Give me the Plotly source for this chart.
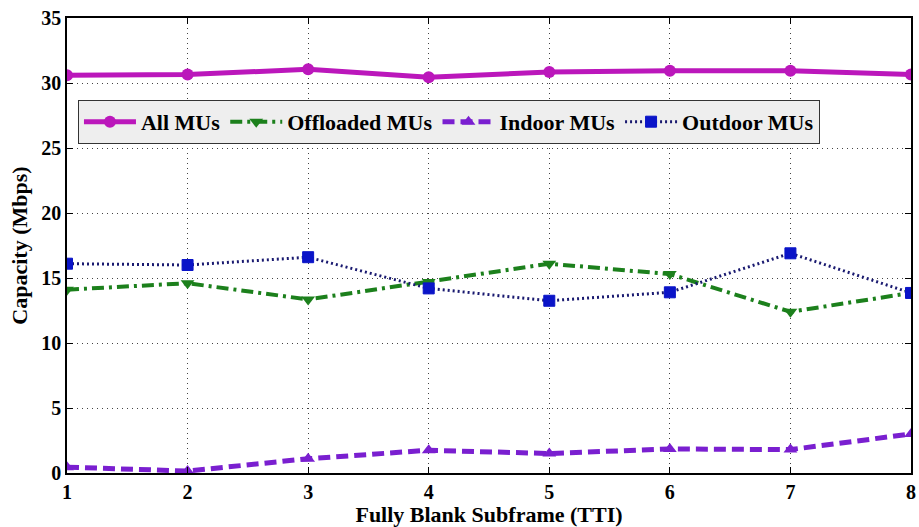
import plotly.graph_objects as go

tti = [1, 2, 3, 4, 5, 6, 7, 8]
all_mus = [30.6, 30.65, 31.05, 30.45, 30.85, 30.95, 30.95, 30.65]
offloaded_mus = [14.1, 14.6, 13.35, 14.7, 16.1, 15.3, 12.4, 13.85]
indoor_mus = [0.45, 0.15, 1.1, 1.75, 1.5, 1.85, 1.8, 3.0]
outdoor_mus = [16.1, 16.0, 16.6, 14.2, 13.25, 13.9, 16.9, 13.85]

yticks = [0, 5, 10, 15, 20, 25, 30, 35]

font_fam = "Liberation Serif"
fs = 22

fig = go.Figure()
fig.add_trace(go.Scatter(x=tti, y=all_mus, name="<b>All MUs</b>", mode="lines+markers",
                         line=dict(color="#bb17bb", width=5, dash="solid"),
                         marker=dict(symbol="circle", size=12, color="#bb17bb")))
fig.add_trace(go.Scatter(x=tti, y=offloaded_mus, name="<b>Offloaded MUs</b>", mode="lines+markers",
                         line=dict(color="#1c801c", width=4, dash="12px,5px,3px,5px"),
                         marker=dict(symbol="triangle-down", size=12, color="#1c801c")))
fig.add_trace(go.Scatter(x=tti, y=indoor_mus, name="<b>Indoor MUs</b>", mode="lines+markers",
                         line=dict(color="#7a1fd0", width=5, dash="12px,6px"),
                         marker=dict(symbol="triangle-up", size=12, color="#7a1fd0")))
fig.add_trace(go.Scatter(x=tti, y=outdoor_mus, name="<b>Outdoor MUs</b>", mode="lines+markers",
                         line=dict(color="#1a1a70", width=3, dash="2px,3px"),
                         marker=dict(symbol="square", size=11, color="#0a14c8",
                                     line=dict(color="#0a14c8", width=1))))

fig.update_layout(
    width=919, height=527,
    margin=dict(l=67, r=8, t=18, b=54),
    paper_bgcolor="white", plot_bgcolor="white",
    font=dict(family=font_fam, size=fs, color="black"),
    showlegend=True,
    legend=dict(orientation="h", x=0.013, y=0.82, xanchor="left", yanchor="top",
                bgcolor="#eeeeee", bordercolor="#333333", borderwidth=1,
                font=dict(family=font_fam, size=fs, color="black"),
                itemwidth=52, tracegroupgap=0),
    xaxis=dict(range=[1, 8], tickvals=tti, ticktext=[f"<b>{v}</b>" for v in tti],
               showgrid=True, gridcolor="#444444", griddash="1px,4px", gridwidth=1,
               showline=True, linecolor="black", linewidth=1.5, mirror="ticks",
               ticks="inside", ticklen=6, tickcolor="black",
               zeroline=False, automargin=False,
               tickfont=dict(size=20),
               title=dict(text="<b>Fully Blank Subframe (TTI)</b>", font=dict(size=fs), standoff=4)),
    yaxis=dict(range=[0, 35], tickvals=yticks, ticktext=[f"<b>{v}</b>" for v in yticks],
               showgrid=True, gridcolor="#444444", griddash="1px,4px", gridwidth=1,
               showline=True, linecolor="black", linewidth=1.5, mirror="ticks",
               ticks="inside", ticklen=6, tickcolor="black",
               zeroline=False, automargin=False,
               tickfont=dict(size=20),
               title=dict(text="<b>Capacity (Mbps)</b>", font=dict(size=fs), standoff=8)),
)

fig.write_html("out.html", config={"displayModeBar": False},
               post_script="document.body.style.margin='0';document.body.style.overflow='hidden';")
